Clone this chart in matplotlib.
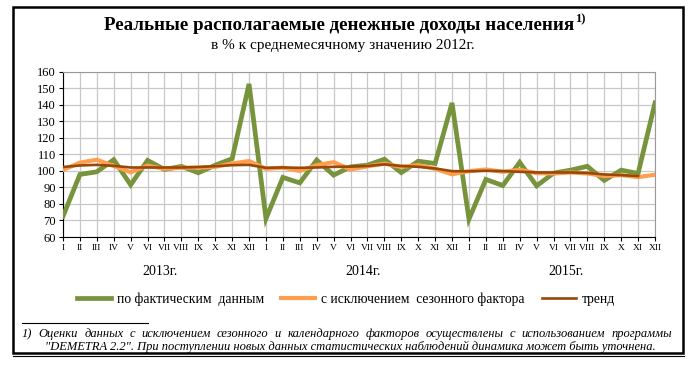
import numpy as np
import matplotlib
matplotlib.use('Agg')
import matplotlib.pyplot as plt
from matplotlib.lines import Line2D
from matplotlib.patches import Rectangle

# Monthly values, % of 2012 monthly average
months = ['I', 'II', 'III', 'IV', 'V', 'VI', 'VII', 'VIII', 'IX', 'X', 'XI', 'XII'] * 3
years = ['2013г.', '2014г.', '2015г.']

actual = [72.5, 97.8, 99.4, 106.7, 91.5, 106.3, 100.8, 102.7, 98.8, 103.4, 107.3, 152.5,
          71.1, 96.0, 92.7, 106.5, 97.4, 102.4, 103.4, 107.0, 98.9, 105.8, 104.4, 141.0,
          70.8, 94.8, 91.1, 105.1, 90.9, 98.6, 100.4, 102.7, 94.2, 100.4, 98.4, 141.0]

seasonal = [100.5, 104.9, 106.7, 102.9, 99.1, 103.1, 101.2, 101.9, 101.9, 102.4, 104.4, 105.9,
            101.2, 101.9, 99.9, 103.4, 105.2, 100.8, 102.7, 104.3, 102.4, 103.4, 101.2, 97.9,
            99.8, 100.8, 99.4, 100.6, 98.6, 98.4, 99.0, 98.4, 96.8, 97.4, 96.2, 97.6]

trend = [102.3, 103.2, 103.6, 103.0, 102.0, 102.0, 102.0, 102.0, 102.3, 102.8, 103.4, 103.6,
         101.8, 102.0, 101.8, 102.0, 102.4, 102.5, 102.9, 103.9, 102.9, 102.4, 101.4, 99.8,
         99.7, 100.0, 99.8, 99.4, 99.0, 99.0, 99.0, 98.7, 97.8, 97.4, 96.8, np.nan]

green = '#77933C'
orange = '#FF9E4F'
brown = '#984807'
serif = 'Liberation Serif'

W, H = 698, 370


def fx(px):
    return px / W


def fy(py):
    return 1 - py / H


fig = plt.figure(figsize=(W / 100, H / 100), dpi=100)
renderer = fig.canvas.get_renderer()
ax = fig.add_axes([fx(63), fy(237), (655 - 63) / W, (237 - 71.5) / H])

x = np.arange(len(months))
ax.plot(x, actual, color=green, lw=3.4, solid_joinstyle='miter', label='по фактическим  данным', zorder=3)
ax.plot(x, seasonal, color=orange, lw=3.0, solid_joinstyle='miter', label='с исключением  сезонного фактора', zorder=4)
ax.plot(x, trend, color=brown, lw=1.9, label='тренд', zorder=5)

ax.set_xlim(0, len(months) - 1)
ax.set_ylim(60, 160)
ax.set_yticks(range(60, 161, 10))
ax.set_xticks(x)
ax.set_xticklabels(months, fontsize=6.8, family=serif)
for lab in ax.get_yticklabels():
    lab.set_family(serif)
    lab.set_fontsize(9)
ax.tick_params(axis='both', direction='out', length=3, width=0.8, pad=2)
ax.grid(True, color='#C8C8C8', lw=0.9)
ax.set_axisbelow(True)
ax.spines['left'].set_color('black')
ax.spines['bottom'].set_color('black')
ax.spines['top'].set_color('#9A9A9A')
ax.spines['right'].set_color('#9A9A9A')

# year labels under month groups
for i, yr in enumerate(years):
    ax.text(i * 12 + 5.75, -0.21, yr, transform=ax.get_xaxis_transform(),
            ha='center', va='center', fontsize=10, family=serif)

# title with superscript footnote mark
title = fig.text(0, fy(25), 'Реальные располагаемые денежные доходы населения',
                 ha='left', va='center', fontsize=13.7, fontweight='bold', family=serif)
sup = fig.text(0, fy(19), '1)', ha='left', va='center', fontsize=9, fontweight='bold', family=serif)
tw = title.get_window_extent(renderer).width
sw = sup.get_window_extent(renderer).width
x0 = 344 - (tw + sw) / 2
title.set_x(fx(x0))
sup.set_x(fx(x0 + tw + 1))

fig.text(fx(343), fy(45), 'в % к среднемесячному значению 2012г.',
         ha='center', va='center', fontsize=11, family=serif)

# legend
fig.legend(loc='center', bbox_to_anchor=(fx(346), fy(299)), ncol=3, frameon=False,
           handlelength=2.5, columnspacing=1.25, handletextpad=0.45,
           prop={'family': serif, 'size': 9.8})


def justify(text, x_left, x_right, y, **kw):
    # spread words evenly between x_left and x_right
    words = text.split(' ')
    arts = [fig.text(0, fy(y), w, ha='left', va='center', **kw) for w in words]
    widths = [a.get_window_extent(renderer).width for a in arts]
    gap = (x_right - x_left - sum(widths)) / (len(words) - 1)
    pos = x_left
    for a, w in zip(arts, widths):
        a.set_x(fx(pos))
        pos += w + gap


# footnote
fig.add_artist(Line2D([fx(22), fx(148)], [fy(323), fy(323)], color='black', lw=0.8))
justify('1) Оценки данных с исключением сезонного и календарного факторов осуществлены с использованием программы',
        22, 672, 334, fontsize=9, style='italic', family=serif)
fig.text(fx(45), fy(347), '"DEMETRA 2.2". При поступлении новых данных статистических наблюдений динамика может быть уточнена.',
         ha='left', va='center', fontsize=9, style='italic', family=serif)

# outer frame
fig.add_artist(Rectangle((fx(13), fy(353)), fx(683) - fx(13), fy(7) - fy(353),
                         fill=False, edgecolor='black', lw=1.8, transform=fig.transFigure))
fig.add_artist(Line2D([fx(13), fx(684)], [fy(355.5), fy(355.5)], color='black', lw=0.8))

fig.savefig('out.png', dpi=100)
